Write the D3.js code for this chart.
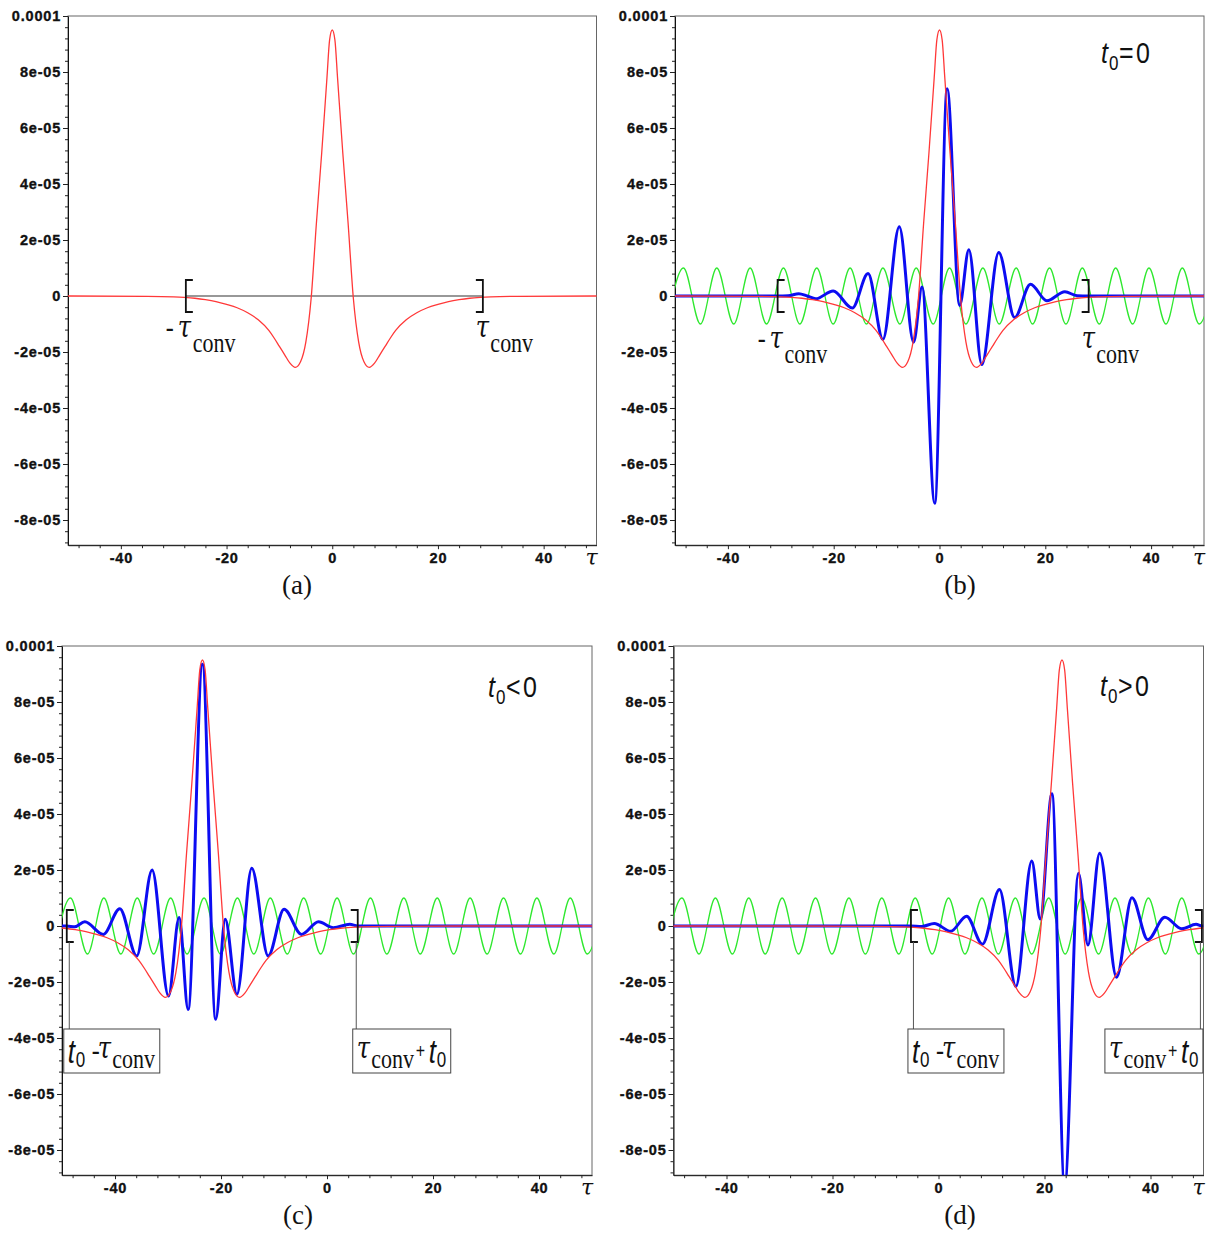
<!DOCTYPE html>
<html><head><meta charset="utf-8">
<script src="https://cdn.jsdelivr.net/npm/d3@7"></script>
<style>
  body { margin: 0; background: #fff; }
  svg { display: block; }
  .tick text { font-family: "Liberation Sans", Arial, sans-serif; font-weight: bold; font-size: 14.5px; letter-spacing: 0.8px; fill: #111; stroke: #111; stroke-width: 0.35px; }
  .tick line { stroke: #222; }
</style></head>
<body>
<svg id="fig" width="1216" height="1236"></svg>
<script>
// ---------- data ----------
const xTickValues = [-40, -20, 0, 20, 40];
const xTickLabels = ["-40", "-20", "0", "20", "40"];
const yTickValues = [1e-4, 8e-5, 6e-5, 4e-5, 2e-5, 0, -2e-5, -4e-5, -6e-5, -8e-5];
const yTickLabels = ["0.0001", "8e-05", "6e-05", "4e-05", "2e-05", "0", "-2e-05", "-4e-05", "-6e-05", "-8e-05"];
const panelLetters = ["(a)", "(b)", "(c)", "(d)"];

// centre t0 of the kernel in each panel
const kernelShift = [0, 0, -23.5, 23.3];
// kernel profile: offset from its centre, value in units of 1e-5
const kernelOffset = [-75, -50, -35, -30, -28, -26, -24, -22, -20, -18, -16, -14, -12, -11, -10, -9, -8, -7, -6, -5, -4, -3, -2, -1, -0.5, 0,
                      0.5, 1, 2, 3, 4, 5, 6, 7, 8, 9, 10, 11, 12, 14, 16, 18, 20, 22, 24, 26, 28, 30, 35, 50, 75];
const kernelValue  = [0, 0, -0.01, -0.03, -0.05, -0.08, -0.13, -0.2, -0.3, -0.42, -0.6, -0.85, -1.23, -1.5, -1.8, -2.1, -2.4, -2.55, -2.35, -1.65, -0.1, 2.6, 5.1, 7.8, 9.15, 9.5,
                      9.15, 7.8, 5.1, 2.6, -0.1, -1.65, -2.35, -2.55, -2.4, -2.1, -1.8, -1.5, -1.23, -0.85, -0.6, -0.42, -0.3, -0.2, -0.13, -0.08, -0.05, -0.03, -0.01, 0, 0];

// carrier oscillation (units of 1e-5): crest and trough positions
const greenPeakTau   = [-48.4, -42.1, -35.8, -29.5, -23.2, -16.9, -10.7, -4.4, 1.9, 8.2, 14.5, 20.8, 27.0, 33.3, 39.6, 45.9, 52.2];
const greenTroughTau = [-51.5, -45.2, -38.9, -32.7, -26.4, -20.1, -13.8, -7.5, -1.2, 5.0, 11.3, 17.6, 23.9, 30.2, 36.5, 42.8, 49.1];
const greenAmp = 1.0;

// product signal (units of 1e-5) for t0 = 0, t0 < 0, t0 > 0
const blueTauB = [-50, -30.6, -28.6, -26.6, -25.0, -23.4, -20.1, -16.5, -13.5, -10.7, -7.6, -4.9, -3.3, -0.9, 1.45, 3.8, 5.55, 8.0, 11.2, 14.2, 17.2, 20.3, 23.7, 26.0, 28.2, 50];
const blueValB = [0, 0, 0.01, 0.08, 0.0, -0.1, 0.18, -0.43, 0.8, -1.55, 2.47, -1.65, 0.32, -7.4, 7.4, -0.34, 1.65, -2.45, 1.55, -0.77, 0.42, -0.17, 0.15, 0.01, 0, 0];
const blueTauC = [-50, -49.1, -47.6, -45.7, -42.2, -39.1, -35.9, -33.0, -29.9, -27.9, -26.2, -23.5, -21.0, -19.2, -17.0, -14.2, -11.1, -8.1, -4.8, -1.6, 1.2, 4.3, 5.8, 50];
const blueValC = [0, 0, -0.03, 0.15, -0.3, 0.62, -1.07, 2.0, -2.5, 0.3, -2.98, 9.35, -3.33, 0.24, -2.44, 2.06, -1.07, 0.6, -0.3, 0.15, -0.06, 0.06, 0, 0];
const blueTauD = [-50, -5.2, -3.2, -0.8, 2.3, 5.3, 8.3, 11.5, 14.6, 17.6, 19.2, 21.4, 23.8, 26.4, 28.2, 30.4, 33.6, 36.5, 39.5, 42.7, 45.9, 48.6, 49.7, 50];
const blueValD = [0, 0, -0.02, 0.09, -0.19, 0.35, -0.65, 1.3, -2.16, 2.32, 0.25, 4.72, -9.3, 1.88, -0.68, 2.6, -1.83, 1.01, -0.49, 0.31, -0.1, 0.06, 0, 0];

// integration window ends [left, right] in each panel
const windowLeft  = [-27.7, -30.6, -49.1, -5.2];
const windowRight = [28.5, 28.2, 5.8, 49.7];

// ---------- layout ----------
const frames = [
  { left: 68,    right: 596.5,  top: 16,  bottom: 545.2, letterX: 297 },
  { left: 675,   right: 1204,   top: 16,  bottom: 545.2, letterX: 960 },
  { left: 62,    right: 592,    top: 646, bottom: 1175.2, letterX: 298 },
  { left: 673.5, right: 1203.5, top: 646, bottom: 1175.2, letterX: 960 }
];
const xDomain = [-50, 50];
const yDomain = [-8.9e-5, 1e-4];
const COL = { red: "#ff3838", green: "#2ee82e", blue: "#0c0cf2" };

const svg = d3.select("#fig");
const defs = svg.append("defs");

const blueSets = [null, [blueTauB, blueValB], [blueTauC, blueValC], [blueTauD, blueValD]];

const greenSeries = greenPeakTau.map(t => [t, greenAmp])
  .concat(greenTroughTau.map(t => [t, -greenAmp]))
  .sort((a, b) => a[0] - b[0]);

const SERIF = '"Liberation Serif","Times New Roman",serif';
const GREEK = '"DejaVu Serif","Liberation Serif",serif';
const SANS = '"Liberation Sans",Arial,sans-serif';
const SY = 1.25;

// one <text> per label; each run is placed at its own offset (dx, dy in screen px)
function label(g, x, y, sy, runs) {
  const t = g.append("text")
    .attr("transform", `translate(${x},${y}) scale(1,${sy})`)
    .attr("fill", "#111");
  runs.forEach(r => {
    t.append("tspan")
      .attr("x", r.dx).attr("y", r.dy / sy)
      .attr("font-family", r.fam).attr("font-size", r.size)
      .attr("font-style", r.it ? "italic" : "normal")
      .text(r.s);
  });
}
const run = (s, dx, dy, fam, size, it) => ({ s, dx, dy, fam, size, it });

function minusTauConv(g, x, y) {
  label(g, x, y, SY, [
    run("-", 0, 0, SERIF, 24, false),
    run("τ", 12, 0, GREEK, 24, true),
    run("conv", 27, 15, SERIF, 22, false)
  ]);
}
function tauConv(g, x, y) {
  label(g, x, y, SY, [
    run("τ", 0, 0, GREEK, 24, true),
    run("conv", 14.5, 15, SERIF, 22, false)
  ]);
}
function boxLeftLabel(g, x, y) {          // t0 - τconv
  label(g, x, y, SY, [
    run("t", 0, 0, SANS, 26, true),
    run("0", 8, 4, SANS, 17, false),
    run("-", 24, -3, SERIF, 24, false),
    run("τ", 30, -5, GREEK, 24, true),
    run("conv", 44.5, 5, SERIF, 22, false)
  ]);
}
function boxRightLabel(g, x, y) {         // τconv + t0
  label(g, x, y, SY, [
    run("τ", 0, -5, GREEK, 24, true),
    run("conv", 14.5, 5, SERIF, 22, false),
    run("+", 59, -5, SANS, 16, false),
    run("t", 72, 0, SANS, 26, true),
    run("0", 80, 4, SANS, 17, false)
  ]);
}
function t0Label(g, x, y, rel) {
  label(g, x, y, 1.15, [
    run("t", 0, 0, SANS, 25, true),
    run("0", 8, 7, SANS, 17, false),
    run(rel, 18, 0, SANS, 25, false),
    run("0", 35, 0, SANS, 25, false)
  ]);
}

frames.forEach((f, i) => {
  const x = d3.scaleLinear().domain(xDomain).range([f.left, f.right]);
  const y = d3.scaleLinear().domain(yDomain).range([f.bottom, f.top]);
  const g = svg.append("g");

  const clipId = "clip" + i;
  defs.append("clipPath").attr("id", clipId)
    .append("rect").attr("x", f.left).attr("y", f.top)
    .attr("width", f.right - f.left).attr("height", f.bottom - f.top);

  // frame
  g.append("rect").attr("x", f.left).attr("y", f.top)
    .attr("width", f.right - f.left).attr("height", f.bottom - f.top)
    .attr("fill", "none").attr("stroke", "#666").attr("stroke-width", 1);

  // axes: major and minor ticks
  const yMinor = d3.range(-88e-6, 1.00001e-4, 4e-6).filter(v => !yTickValues.some(t => Math.abs(t - v) < 1e-9));
  const xMinor = d3.range(-48, 49, 4).filter(v => !xTickValues.includes(v));

  g.append("g").attr("transform", `translate(${f.left},0)`)
    .call(d3.axisLeft(y).tickValues(yTickValues).tickFormat((d, k) => yTickLabels[k]).tickSize(5).tickSizeOuter(0).tickPadding(2));
  g.append("g").attr("transform", `translate(${f.left},0)`)
    .call(d3.axisLeft(y).tickValues(yMinor).tickFormat("").tickSize(3).tickSizeOuter(0))
    .select(".domain").remove();
  g.append("g").attr("transform", `translate(0,${f.bottom})`)
    .call(d3.axisBottom(x).tickValues(xTickValues).tickFormat((d, k) => xTickLabels[k]).tickSize(4).tickSizeOuter(0).tickPadding(4));
  g.append("g").attr("transform", `translate(0,${f.bottom})`)
    .call(d3.axisBottom(x).tickValues(xMinor).tickFormat("").tickSize(3).tickSizeOuter(0))
    .select(".domain").remove();
  g.selectAll(".domain").attr("stroke", "#111");

  // τ axis label
  g.append("text").attr("x", f.right - 11).attr("y", f.bottom + 19.5)
    .attr("font-family", GREEK).attr("font-style", "italic").attr("font-size", 22)
    .attr("fill", "#111").text("τ");

  // panel letter
  g.append("text").attr("x", f.letterX).attr("y", f.bottom + 48.5)
    .attr("text-anchor", "middle").attr("font-family", SERIF).attr("font-size", 27)
    .attr("fill", "#111").text(panelLetters[i]);

  const plot = g.append("g").attr("clip-path", `url(#${clipId})`);
  const line = d3.line().x(d => x(d[0])).y(d => y(d[1] * 1e-5)).curve(d3.curveMonotoneX);

  if (i === 0) {
    plot.append("line")
      .attr("x1", x(windowLeft[0])).attr("x2", x(windowRight[0]))
      .attr("y1", y(0)).attr("y2", y(0))
      .attr("stroke", "#333").attr("stroke-width", 1.2);
  } else {
    plot.append("path").datum(greenSeries).attr("d", line)
      .attr("fill", "none").attr("stroke", COL.green).attr("stroke-width", 1.3);
    const [bt, bv] = blueSets[i];
    plot.append("path").datum(bt.map((t, k) => [t, bv[k]])).attr("d", line)
      .attr("fill", "none").attr("stroke", COL.blue).attr("stroke-width", 3).attr("stroke-linejoin", "round");
  }

  const red = kernelOffset.map((o, k) => [o + kernelShift[i], kernelValue[k]]);
  plot.append("path").datum(red).attr("d", line)
    .attr("fill", "none").attr("stroke", COL.red).attr("stroke-width", 1.3);

  // window brackets
  const y0 = y(0);
  const xl = x(windowLeft[i]), xr = x(windowRight[i]);
  g.append("path").attr("d", `M${xl + 7},${y0 - 16}H${xl}V${y0 + 16}H${xl + 7}`)
    .attr("fill", "none").attr("stroke", "#111").attr("stroke-width", 1.8);
  g.append("path").attr("d", `M${xr - 7},${y0 - 16}H${xr}V${y0 + 16}H${xr - 7}`)
    .attr("fill", "none").attr("stroke", "#111").attr("stroke-width", 1.8);

  if (i < 2) {
    const ly = i === 0 ? 337 : 348;
    minusTauConv(g, xl - 20, ly);
    tauConv(g, xr - 7, ly);
  } else {
    // leader lines and boxed labels
    const boxTop = 1029, boxH = 44;
    g.append("line").attr("x1", xl + 2.5).attr("x2", xl + 2.5).attr("y1", y0 + 16).attr("y2", boxTop)
      .attr("stroke", "#555").attr("stroke-width", 1);
    g.append("line").attr("x1", xr - 1.5).attr("x2", xr - 1.5).attr("y1", y0 + 16).attr("y2", boxTop)
      .attr("stroke", "#555").attr("stroke-width", 1);
    const b1x = xl - 3, b1w = 96;
    const b2w = 98, b2x = i === 3 ? xr - b2w + 1 : xr - 5;
    g.append("rect").attr("x", b1x).attr("y", boxTop).attr("width", b1w).attr("height", boxH)
      .attr("fill", "#fff").attr("stroke", "#444").attr("stroke-width", 1);
    g.append("rect").attr("x", b2x).attr("y", boxTop).attr("width", b2w).attr("height", boxH)
      .attr("fill", "#fff").attr("stroke", "#444").attr("stroke-width", 1);
    boxLeftLabel(g, b1x + 4, boxTop + 34);
    boxRightLabel(g, b2x + 4, boxTop + 34);
  }
});

// t0 annotations
const ann = svg.append("g");
t0Label(ann, 1101, 63, "=");
t0Label(ann, 488, 697, "<");
t0Label(ann, 1100, 696, ">");
</script>
</body></html>
